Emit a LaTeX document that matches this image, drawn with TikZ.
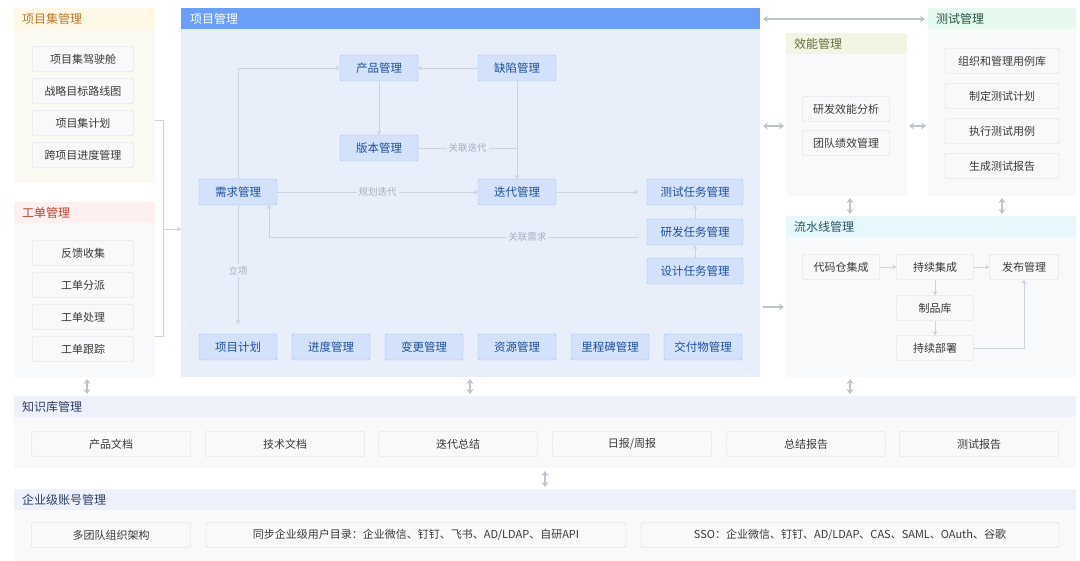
\documentclass[tikz,border=0pt]{standalone}
\usepackage{fontspec}
\setmainfont{Noto Sans CJK SC}
\usetikzlibrary{arrows.meta,positioning}
\definecolor{itemfill}{HTML}{F8F9FB}
\definecolor{itemline}{HTML}{D5D9DF}
\definecolor{itemtext}{HTML}{3A3A3A}
\definecolor{bluefill}{HTML}{D3E2FA}
\definecolor{blueline}{HTML}{9CBDF0}
\definecolor{bluetext}{HTML}{1F4E9A}
\definecolor{linkgray}{HTML}{CBD3E0}
\definecolor{labgray}{HTML}{A5AEBB}
\definecolor{biggray}{HTML}{BFC4CC}
\definecolor{panelbody}{HTML}{F8F9FB}
\definecolor{bluepanel}{HTML}{E8EFFB}
\definecolor{bluehead}{HTML}{6A9EF7}
\definecolor{pghead}{HTML}{FFF8E6}
\definecolor{pgbody}{HTML}{FAFAF3}
\definecolor{pgtext}{HTML}{B8782F}
\definecolor{wohead}{HTML}{FDF0EE}
\definecolor{wotext}{HTML}{B8432E}
\definecolor{efhead}{HTML}{F1F5E3}
\definecolor{eftext}{HTML}{646E3C}
\definecolor{tehead}{HTML}{E6F9EE}
\definecolor{tetext}{HTML}{285046}
\definecolor{cihead}{HTML}{E6F8FC}
\definecolor{citext}{HTML}{285564}
\definecolor{kbhead}{HTML}{EEF1FA}
\definecolor{kbtext}{HTML}{2D3C69}
\tikzset{
  item/.style={draw=itemline, fill=itemfill, text=itemtext, rounded corners=1.5pt,
    inner sep=0pt, minimum height=25pt, font=\fontsize{11}{13}\selectfont},
  blue/.style={draw=blueline, fill=bluefill, text=bluetext, rounded corners=1.5pt,
    inner sep=0pt, minimum width=78pt, minimum height=26pt, font=\fontsize{11.5}{13}\selectfont},
  link/.style={draw=linkgray, line width=0.9pt, -{Stealth[length=4pt,width=5pt]}},
  plain/.style={draw=linkgray, line width=0.9pt},
  lab/.style={fill=bluepanel, text=labgray, inner sep=2pt, font=\fontsize{9.5}{11}\selectfont},
  big/.style={draw=biggray, line width=1.6pt, {Stealth[length=5pt,width=7pt]}-{Stealth[length=5pt,width=7pt]}},
  bigone/.style={draw=biggray, line width=1.6pt, -{Stealth[length=5pt,width=7pt]}},
  title/.style={anchor=west, inner sep=0pt, font=\fontsize{12}{14}\selectfont},
  group/.style={draw=itemline, dashed, rounded corners=3pt}
}
\newcommand{\panel}[6]{% x1 y1 x2 y2 header-fill body-fill
  \fill[#6] (#1,#2) rectangle (#3,#4);
  \fill[#5] (#1,#2) rectangle (#3,#2+21);}
\begin{document}
\begin{tikzpicture}[x=1pt,y=-1pt]
\useasboundingbox[fill=white] (0,0) rectangle (1080,561);
% panels
\panel{14}{8}{155}{183}{pghead}{pgbody}
\node[title, text=pgtext] at (22,19) {项目集管理};
\panel{14}{202}{155}{377}{wohead}{panelbody}
\node[title, text=wotext] at (22,213) {工单管理};
\panel{181}{8}{760}{377}{bluehead}{bluepanel}
\node[title, text=white] at (190,19) {项目管理};
\panel{786}{33}{907}{196}{efhead}{panelbody}
\node[title, text=eftext] at (794,44) {效能管理};
\panel{928}{8}{1076}{196}{tehead}{panelbody}
\node[title, text=tetext] at (936,19) {测试管理};
\panel{786}{216}{1076}{377}{cihead}{panelbody}
\node[title, text=citext] at (794,227) {流水线管理};
\panel{14}{396}{1076}{468}{kbhead}{panelbody}
\node[title, text=kbtext] at (22,407) {知识库管理};
\panel{14}{489}{1076}{561}{kbhead}{panelbody}
\node[title, text=kbtext] at (22,500) {企业级账号管理};
% 项目集管理
\node[item, minimum width=101pt] (pg1) at (83,59) {项目集驾驶舱};
\node[item, minimum width=101pt] (pg2) at (83,91) {战略目标路线图};
\node[item, minimum width=101pt] (pg3) at (83,123) {项目集计划};
\node[item, minimum width=101pt] (pg4) at (83,155) {跨项目进度管理};
% 工单管理
\node[item, minimum width=101pt] (wo1) at (83,253) {反馈收集};
\node[item, minimum width=101pt] (wo2) at (83,285) {工单分派};
\node[item, minimum width=101pt] (wo3) at (83,317) {工单处理};
\node[item, minimum width=101pt] (wo4) at (83,349) {工单跟踪};
\coordinate (pgin) at (181,229);
\draw[plain] (155,120) -| (163,336) -- (155,336);
\draw[link] (163,229) -- (pgin);
% 项目管理
\node[blue] (prod) at (379,68) {产品管理};
\node[blue] (bug) at (517,68) {缺陷管理};
\node[blue] (ver) at (379,148) {版本管理};
\node[blue] (req) at (238,192) {需求管理};
\node[blue] (iter) at (517,192) {迭代管理};
\draw[group] (638,170) rectangle (752,293);
\node[blue, minimum width=96pt] (tt) at (695,192) {测试任务管理};
\node[blue, minimum width=96pt] (dt) at (695,232) {研发任务管理};
\node[blue, minimum width=96pt] (st) at (695,271) {设计任务管理};
\draw[group] (189,324) rectangle (752,369);
\node[blue] (p1) at (238,347) {项目计划};
\node[blue] (p2) at (331,347) {进度管理};
\node[blue] (p3) at (424,347) {变更管理};
\node[blue] (p4) at (517,347) {资源管理};
\node[blue] (p5) at (610,347) {里程碑管理};
\node[blue] (p6) at (703,347) {交付物管理};
\draw[link] (bug) -- (prod);
\draw[link] (prod) -- (ver);
\draw[link] (bug) -- (iter);
\draw[plain] (ver) -- node[lab]{关联迭代} (517,148);
\draw[link] (req) -- node[lab]{规划迭代} (iter);
\draw[link] (iter) -- (638,192);
\draw[link] (638,237) -- node[lab, pos=0.3]{关联需求} (269,237) -- (269,205);
\draw[link] (req.north) |- (prod.west);
\draw[link] (req.south) -- node[lab, pos=0.55]{立项} (238,324);
\draw[link] (st) -- (dt);
\draw[link] (dt) -- (tt);
% 效能管理
\node[item, minimum width=87pt] (ef1) at (846,109) {研发效能分析};
\node[item, minimum width=87pt] (ef2) at (846,143) {团队绩效管理};
% 测试管理
\node[item, minimum width=114pt] (te1) at (1002,61) {组织和管理用例库};
\node[item, minimum width=114pt] (te2) at (1002,96) {制定测试计划};
\node[item, minimum width=114pt] (te3) at (1002,131) {执行测试用例};
\node[item, minimum width=114pt] (te4) at (1002,166) {生成测试报告};
% 流水线管理
\node[item, minimum width=77pt] (ci0) at (841,267) {代码仓集成};
\node[item, minimum width=77pt] (ci1) at (935,267) {持续集成};
\node[item, minimum width=69pt] (rel) at (1024,267) {发布管理};
\node[item, minimum width=77pt] (art) at (935,308) {制品库};
\node[item, minimum width=77pt] (cd) at (935,348) {持续部署};
\draw[link] (ci0) -- (ci1);
\draw[link] (ci1) -- (rel);
\draw[link] (ci1) -- (art);
\draw[link] (art) -- (cd);
\draw[link] (cd) -| (rel);
% 知识库管理
\node[item, minimum width=159pt] (kb1) at (111,444) {产品文档};
\node[item, minimum width=159pt] (kb2) at (285,444) {技术文档};
\node[item, minimum width=159pt] (kb3) at (458,444) {迭代总结};
\node[item, minimum width=159pt] (kb4) at (632,444) {日报/周报};
\node[item, minimum width=159pt] (kb5) at (806,444) {总结报告};
\node[item, minimum width=159pt] (kb6) at (979,444) {测试报告};
% 企业级账号管理
\node[item, minimum width=159pt] (ac1) at (111,535) {多团队组织架构};
\node[item, minimum width=420pt] (ac2) at (416,535) {同步企业级用户目录：企业微信、钉钉、飞书、AD/LDAP、自研API};
\node[item, minimum width=418pt] (ac3) at (850,535) {SSO：企业微信、钉钉、AD/LDAP、CAS、SAML、OAuth、谷歌};
% panel links
\draw[big] (763,19) -- (925,19);
\draw[big] (763,126) -- (784,126);
\draw[big] (909,126) -- (926,126);
\draw[big] (850,198) -- (850,214);
\draw[big] (1002,198) -- (1002,214);
\draw[bigone] (763,307) -- (784,307);
\draw[big] (87,379) -- (87,394);
\draw[big] (470,379) -- (470,394);
\draw[big] (850,379) -- (850,394);
\draw[big] (545,471) -- (545,487);
\end{tikzpicture}
\end{document}
